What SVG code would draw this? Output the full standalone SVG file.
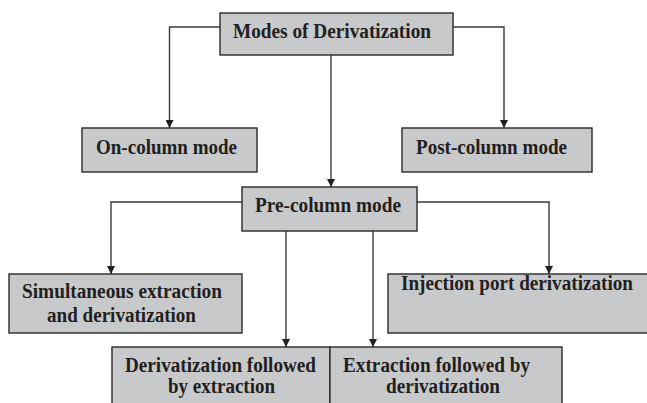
<svg xmlns="http://www.w3.org/2000/svg" width="647" height="403" viewBox="0 0 647 403">
<defs>
<marker id="ah" viewBox="0 0 10 10" refX="10" refY="5" markerWidth="8" markerHeight="8" markerUnits="userSpaceOnUse" orient="auto">
<path d="M0,0 L10,5 L0,10 Z" fill="#231f20"/>
</marker>
<style>
.box{fill:#c8c9cb;stroke:#2a2a2a;stroke-width:1.4}
.lbl{font-family:"Liberation Serif","Times New Roman",serif;font-weight:bold;font-size:20px;fill:#231f20;text-anchor:middle}
.con{fill:none;stroke:#3a3a3a;stroke-width:1.4;marker-end:url(#ah)}
</style>
</defs>
<rect width="647" height="403" fill="#ffffff"/>
<g id="connectors">
<path class="con" d="M220,27 H169.5 V128"/>
<path class="con" d="M453,27 H504 V128"/>
<path class="con" d="M331,55 V187"/>
<path class="con" d="M242,202 H111 V274"/>
<path class="con" d="M417,202 H549 V274"/>
<path class="con" d="M286,231 V347"/>
<path class="con" d="M373,231 V347"/>
</g>
<g id="modes">
<rect class="box" x="220" y="13" width="233" height="42"/>
<text class="lbl" x="332" y="38" textLength="198" lengthAdjust="spacingAndGlyphs">Modes of Derivatization</text>
</g>
<g id="on-column">
<rect class="box" x="82" y="128" width="175" height="44"/>
<text class="lbl" x="166.5" y="154" textLength="141" lengthAdjust="spacingAndGlyphs">On-column mode</text>
</g>
<g id="post-column">
<rect class="box" x="402" y="128" width="190" height="44"/>
<text class="lbl" x="491.5" y="154" textLength="151" lengthAdjust="spacingAndGlyphs">Post-column mode</text>
</g>
<g id="pre-column">
<rect class="box" x="242" y="187" width="175" height="44"/>
<text class="lbl" x="328" y="212" textLength="146" lengthAdjust="spacingAndGlyphs">Pre-column mode</text>
</g>
<g id="simultaneous">
<rect class="box" x="9" y="274" width="233" height="59"/>
<text class="lbl" x="122" y="298" textLength="200" lengthAdjust="spacingAndGlyphs">Simultaneous extraction</text>
<text class="lbl" x="121.5" y="322" textLength="149" lengthAdjust="spacingAndGlyphs">and derivatization</text>
</g>
<g id="injection">
<rect class="box" x="388" y="274" width="262" height="59"/>
<text class="lbl" x="517" y="290" textLength="232" lengthAdjust="spacingAndGlyphs">Injection port derivatization</text>
</g>
<g id="deriv-followed">
<rect class="box" x="112" y="347" width="218" height="60"/>
<text class="lbl" x="220.5" y="372" textLength="191" lengthAdjust="spacingAndGlyphs">Derivatization followed</text>
<text class="lbl" x="221.5" y="393" textLength="107" lengthAdjust="spacingAndGlyphs">by extraction</text>
</g>
<g id="extract-followed">
<rect class="box" x="330" y="347" width="232" height="60"/>
<text class="lbl" x="436.5" y="372" textLength="187" lengthAdjust="spacingAndGlyphs">Extraction followed by</text>
<text class="lbl" x="443" y="393" textLength="114" lengthAdjust="spacingAndGlyphs">derivatization</text>
</g>
</svg>
